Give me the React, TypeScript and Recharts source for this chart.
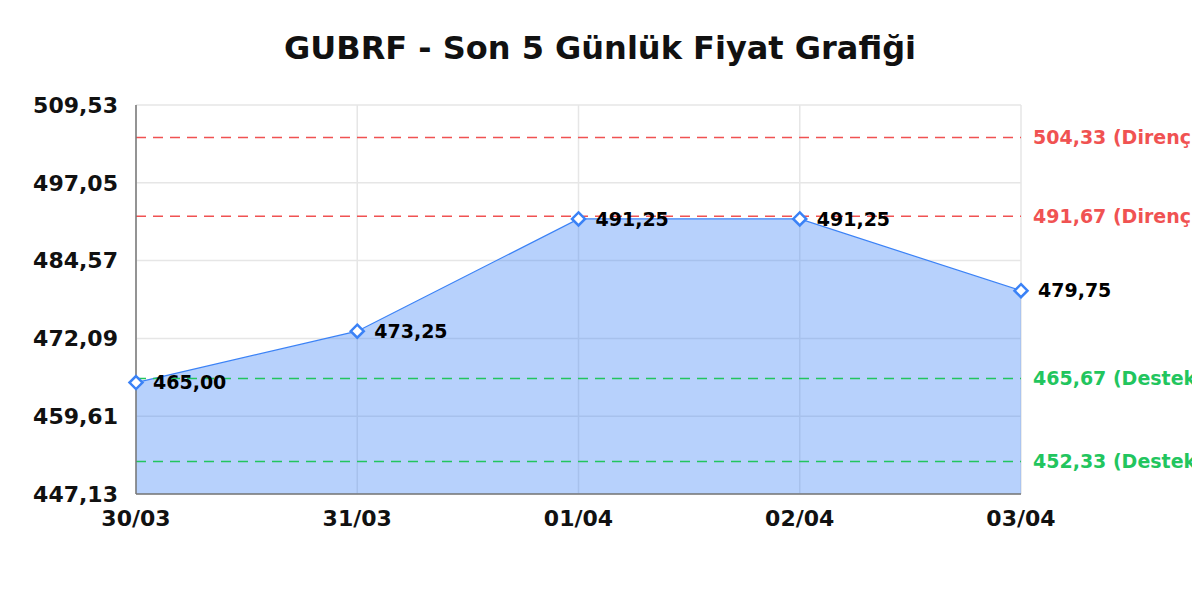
import React from "react";
import {
  AreaChart,
  Area,
  XAxis,
  YAxis,
  CartesianGrid,
  ReferenceLine,
  LabelList,
} from "recharts";

const days = ["30/03", "31/03", "01/04", "02/04", "03/04"];
const prices = [465.0, 473.25, 491.25, 491.25, 479.75];
const yTicks = [447.13, 459.61, 472.09, 484.57, 497.05, 509.53];
const resistance = [504.33, 491.67];
const support = [465.67, 452.33];

const data = days.map((day, i) => ({ day, price: prices[i] }));

const fmt = (v: number) => v.toFixed(2).replace(".", ",");

const BLUE = "#3b82f6";
const RED = "#f05252";
const GREEN = "#22c55e";

const Diamond = (props: any) => {
  const { cx, cy, index } = props;
  if (cx == null || cy == null) return null;
  const r = 6.5;
  return (
    <path
      key={`dot-${index}`}
      d={`M${cx},${cy - r}L${cx + r},${cy}L${cx},${cy + r}L${cx - r},${cy}Z`}
      fill="#fff"
      stroke={BLUE}
      strokeWidth={2.5}
    />
  );
};

export default function App() {
  return (
    <div
      style={{
        position: "relative",
        width: 1184,
        height: 584,
        fontFamily: "'DejaVu Sans', sans-serif",
      }}
    >
      <style>{`.recharts-surface { overflow: visible; }`}</style>
      <div
        style={{
          position: "absolute",
          top: 20,
          left: 0,
          right: 0,
          textAlign: "center",
          fontSize: 32,
          lineHeight: "40px",
          fontWeight: "bold",
          color: "#111",
          zIndex: 1,
        }}
      >
        GUBRF - Son 5 Günlük Fiyat Grafiği
      </div>

      <AreaChart
        width={1184}
        height={584}
        data={data}
        margin={{ top: 97, right: 171, bottom: 68, left: 0 }}
      >
        <CartesianGrid stroke="#e6e6e6" strokeWidth={1.5} />

        <XAxis
          dataKey="day"
          tickSize={0}
          tickMargin={16}
          stroke="#777"
          strokeWidth={1.5}
          tick={{ fill: "#111", fontSize: 22, fontWeight: "bold" }}
          interval={0}
        />

        <YAxis
          width={128}
          domain={[yTicks[0], yTicks[yTicks.length - 1]]}
          ticks={yTicks}
          tickFormatter={fmt}
          tickSize={0}
          tickMargin={18}
          stroke="#777"
          strokeWidth={1.5}
          tick={{ fill: "#111", fontSize: 22, fontWeight: "bold" }}
          interval={0}
        />

        <Area
          type="linear"
          dataKey="price"
          stroke={BLUE}
          strokeWidth={1.2}
          fill={BLUE}
          fillOpacity={0.37}
          dot={Diamond}
          activeDot={false}
          isAnimationActive={false}
        >
          <LabelList
            dataKey="price"
            position="right"
            offset={17}
            formatter={(v: any) => fmt(Number(v))}
            fill="#000"
            fontSize={19}
            fontWeight="bold"
          />
        </Area>

        {resistance.map((v) => (
          <ReferenceLine
            key={`r-${v}`}
            y={v}
            stroke={RED}
            strokeWidth={1.5}
            strokeDasharray="10 7"
            ifOverflow="visible"
            label={{
              value: `${fmt(v)} (Direnç)`,
              position: "right",
              offset: 12,
              fill: RED,
              fontSize: 19,
              fontWeight: "bold",
            }}
          />
        ))}

        {support.map((v) => (
          <ReferenceLine
            key={`s-${v}`}
            y={v}
            stroke={GREEN}
            strokeWidth={1.5}
            strokeDasharray="10 7"
            ifOverflow="visible"
            label={{
              value: `${fmt(v)} (Destek)`,
              position: "right",
              offset: 12,
              fill: GREEN,
              fontSize: 19,
              fontWeight: "bold",
            }}
          />
        ))}
      </AreaChart>
    </div>
  );
}
